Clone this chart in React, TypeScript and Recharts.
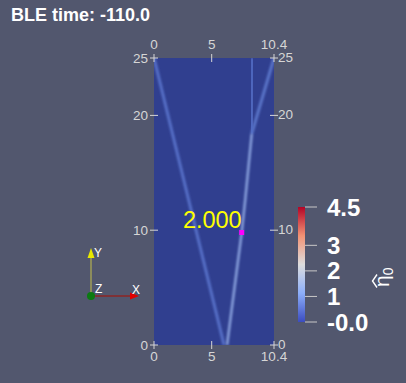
import React from 'react';
import { ComposedChart, BarChart, Bar, XAxis, YAxis, Scatter, CartesianGrid } from 'recharts';

// ---- data ----
const xTicks = [0, 5, 10.4];
const xTickLabels = ['0', '5', '10.4'];
const yTicks = [0, 10, 20, 25];
const yTickLabels = ['0', '10', '20', '25'];

const streakLeft = [{ x: 0, y: 25 }, { x: 6.07, y: 0 }];
const streakCorner = [{ x: 10.4, y: 25 }, { x: 8.47, y: 18.4 }];
const streakVertical = [{ x: 8.5, y: 25 }, { x: 8.47, y: 18.4 }];
const streakBright = [{ x: 8.47, y: 18.4 }, { x: 7.9, y: 12.6 }, { x: 7.6, y: 9.8 }, { x: 6.33, y: 0 }];
const probe = [{ x: 7.6, y: 9.8, label: '2.000' }];

const cbTicks = [0, 1, 2, 3, 4.5];
const cbTickLabels = ['-0.0', '1', '2', '3', '4.5'];
const cbRange = [{ name: 'eta', v: 4.5 }];

const titleText = 'BLE time: -110.0';

// ---- styles ----
const BG = '#52576e';
const FIELD = '#303f8f';
const AX = '#d6d6d6';
const FONT = '"Liberation Sans", Arial, sans-serif';

const labelOf = (v: number, ticks: number[], labels: string[]) => {
  const i = ticks.findIndex((t) => Math.abs(t - v) < 1e-9);
  return i >= 0 ? labels[i] : String(v);
};

function makeTick(side: 'top' | 'bottom' | 'left' | 'right') {
  return (props: any) => {
    const { x, y, payload } = props;
    const v = payload.value as number;
    const isX = side === 'top' || side === 'bottom';
    const txt = isX ? labelOf(v, xTicks, xTickLabels) : labelOf(v, yTicks, yTickLabels);
    const common = { fill: AX, fontSize: 13.5, fontFamily: FONT } as any;
    if (side === 'bottom')
      return (
        <g>
          <line x1={x} x2={x} y1={y - 4} y2={y + 4} stroke={AX} strokeWidth={1} />
          <text x={x} y={y + 16} textAnchor="middle" {...common}>{txt}</text>
        </g>
      );
    if (side === 'top')
      return (
        <g>
          <line x1={x} x2={x} y1={y - 4} y2={y + 4} stroke={AX} strokeWidth={1} />
          <text x={x} y={y - 9} textAnchor="middle" {...common}>{txt}</text>
        </g>
      );
    if (side === 'left')
      return (
        <g>
          <line x1={x - 4} x2={x + 4} y1={y} y2={y} stroke={AX} strokeWidth={1} />
          <text x={x - 6} y={y} dy="0.36em" textAnchor="end" {...common}>{txt}</text>
        </g>
      );
    return (
      <g>
        <line x1={x - 4} x2={x + 4} y1={y} y2={y} stroke={AX} strokeWidth={1} />
        <text x={x + 4} y={y - 1} dy="0.36em" textAnchor="start" {...common}>{txt}</text>
      </g>
    );
  };
}

const noShape = () => <g />;

const ProbeShape = (props: any) => {
  const { cx, cy, payload } = props;
  return (
    <g>
      <text x={cx} y={cy - 4} textAnchor="end" fill="#ffff00" fontSize={23.5} fontFamily={FONT}>
        {payload.label}
      </text>
      <rect x={cx - 2.5} y={cy - 2.5} width={5} height={5} fill="#ff00ff" />
    </g>
  );
};

export default function App() {
  return (
    <div style={{ position: 'absolute', left: 0, top: 0, width: 406, height: 383, background: BG, overflow: 'hidden' }}>
      <div style={{ position: 'absolute', left: 0, top: 0 }}>
        <ComposedChart width={406} height={383} margin={{ top: 57, right: 131, bottom: 37, left: 153 }}>
          <defs>
            <filter id="soft" x="-20%" y="-20%" width="140%" height="140%">
              <feGaussianBlur stdDeviation="0.9" />
            </filter>
          </defs>
          <CartesianGrid horizontal={false} vertical={false} fill={FIELD} fillOpacity={1} stroke="none" />
          <XAxis type="number" dataKey="x" domain={[0, 10.4]} ticks={xTicks} interval={0} height={1}
            tickSize={0} tickMargin={0} axisLine={false} tickLine={false} tick={makeTick('bottom')} allowDataOverflow />
          <XAxis xAxisId="top" orientation="top" type="number" dataKey="x" domain={[0, 10.4]} ticks={xTicks} interval={0} height={1}
            tickSize={0} tickMargin={0} axisLine={false} tickLine={false} tick={makeTick('top')} allowDataOverflow />
          <YAxis type="number" dataKey="y" domain={[0, 25]} ticks={yTicks} interval={0} width={1}
            tickSize={0} tickMargin={0} axisLine={false} tickLine={false} tick={makeTick('left')} allowDataOverflow />
          <YAxis yAxisId="right" orientation="right" type="number" dataKey="y" domain={[0, 25]} ticks={yTicks} interval={0} width={1}
            tickSize={0} tickMargin={0} axisLine={false} tickLine={false} tick={makeTick('right')} allowDataOverflow />
          <Scatter data={streakLeft} line={{ stroke: '#5670c8', strokeWidth: 3, filter: 'url(#soft)' }} shape={noShape} isAnimationActive={false} />
          <Scatter data={streakCorner} line={{ stroke: '#5a74c9', strokeWidth: 3, filter: 'url(#soft)' }} shape={noShape} isAnimationActive={false} />
          <Scatter data={streakVertical} line={{ stroke: '#536dc5', strokeWidth: 3.5, filter: 'url(#soft)' }} shape={noShape} isAnimationActive={false} />
          <Scatter data={streakBright} line={{ stroke: '#8aa2de', strokeWidth: 2.5, filter: 'url(#soft)' }} shape={noShape} isAnimationActive={false} />
          <Scatter data={probe} shape={ProbeShape} isAnimationActive={false} />
        </ComposedChart>
      </div>

      <div style={{ position: 'absolute', left: 290, top: 190 }}>
        <BarChart width={120} height={170} data={cbRange} margin={{ top: 17, right: 104, bottom: 38, left: 8 }} barCategoryGap={0}>
          <defs>
            <linearGradient id="cbg" x1="0" y1="0" x2="0" y2="1">
              <stop offset="0%" stopColor="#b40426" />
              <stop offset="25%" stopColor="#f29274" />
              <stop offset="50%" stopColor="#dddddd" />
              <stop offset="75%" stopColor="#8caefa" />
              <stop offset="100%" stopColor="#3b4cc0" />
            </linearGradient>
          </defs>
          <XAxis dataKey="name" type="category" hide />
          <YAxis orientation="right" type="number" domain={[0, 4.5]} ticks={cbTicks} interval={0} width={1}
            tickSize={12} tickMargin={10} axisLine={false} tickLine={{ stroke: '#c8c8c8' }}
            tickFormatter={(v: number) => labelOf(v, cbTicks, cbTickLabels)}
            tick={{ fill: '#ffffff', fontSize: 24, fontWeight: 'bold', fontFamily: FONT }} allowDataOverflow />
          <Bar dataKey="v" fill="url(#cbg)" isAnimationActive={false} />
        </BarChart>
      </div>

      <svg width={406} height={383} style={{ position: 'absolute', left: 0, top: 0, pointerEvents: 'none' }}>
        <text x={11} y={21} fill="#ffffff" fontSize={18} fontWeight="bold" fontFamily={FONT}>{titleText}</text>
        {/* colorbar title */}
        <g transform="translate(389,287) rotate(-90)" fill="#ffffff" fontFamily={FONT}>
          <text x={0} y={0} fontSize={21}>η<tspan fontSize={14} dy={4}>0</tspan></text>
          <path d="M -0.5 -12 L 6 -16.5 L 12.5 -12" stroke="#ffffff" strokeWidth={1.4} fill="none" />
        </g>
        {/* orientation axes */}
        <line x1={91} y1={296} x2={91} y2={257} stroke="#8c8c5c" strokeWidth={2} />
        <polygon points="87.5,258 94.5,258 91,248" fill="#e8e800" />
        <line x1={91} y1={296} x2={130} y2={296} stroke="#8e2424" strokeWidth={1.5} />
        <polygon points="130,292.5 130,299.5 139,296" fill="#e00000" />
        <circle cx={91} cy={296} r={4} fill="#0b7a12" />
        <text x={94} y={257} fill="#ffffff" fontSize={12} fontFamily={FONT}>Y</text>
        <text x={95} y={293} fill="#ffffff" fontSize={12} fontFamily={FONT}>Z</text>
        <text x={132} y={294} fill="#ffffff" fontSize={12} fontFamily={FONT}>X</text>
      </svg>
    </div>
  );
}
